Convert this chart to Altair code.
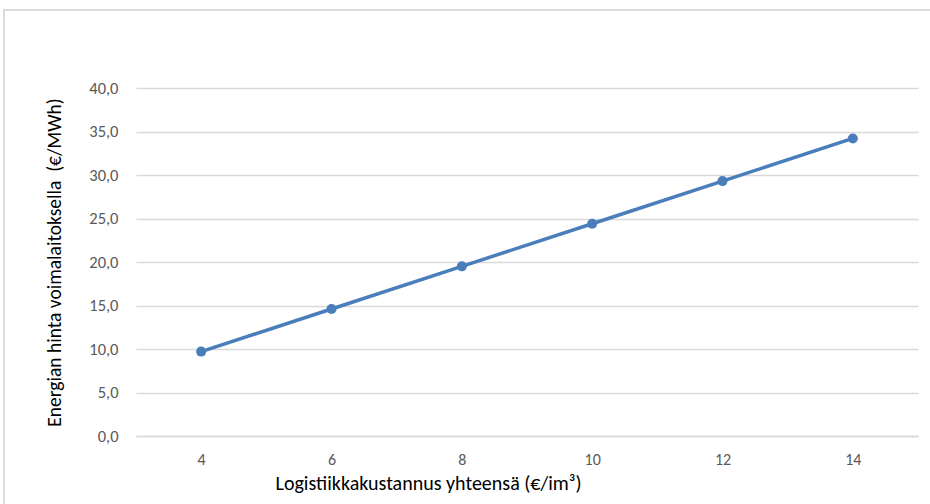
import altair as alt
import pandas as pd

cost = [4, 6, 8, 10, 12, 14]
price = [9.7, 14.6, 19.5, 24.4, 29.3, 34.2]

df = pd.DataFrame({"cost": [str(c) for c in cost], "price": price})

FONT = "Carlito, Liberation Sans Narrow, Lato, sans-serif"

x = alt.X(
    "cost:O",
    sort=[str(c) for c in cost],
    scale=alt.Scale(type="point", padding=0.5),
    axis=alt.Axis(
        title="Logistiikkakustannus yhteensä (€/im³)",
        labelAngle=0,
        labelFontSize=16,
        labelColor="#595959",
        labelFont=FONT,
        labelPadding=15,
        ticks=False,
        domain=True,
        domainColor="#d9d9d9",
        domainWidth=1.5,
        titleFont=FONT,
        titleFontSize=20,
        titleFontWeight="normal",
        titleColor="#000000",
        titleX=292,
        titleY=53,
        titleBaseline="alphabetic",
    ),
)
y = alt.Y(
    "price:Q",
    scale=alt.Scale(domain=[0, 40]),
    axis=alt.Axis(
        title="Energian hinta voimalaitoksella\u00a0 (€/MWh)",
        values=[0, 5, 10, 15, 20, 25, 30, 35, 40],
        labelExpr="replace(format(datum.value, '.1f'), '.', ',')",
        labelFontSize=16.5,
        labelColor="#595959",
        labelFont=FONT,
        labelPadding=18,
        ticks=False,
        domain=False,
        grid=True,
        gridColor="#d9d9d9",
        gridWidth=1.5,
        titleFont=FONT,
        titleFontSize=19.5,
        titleFontWeight="normal",
        titleColor="#000000",
        titleX=-82,
        titleBaseline="middle",
    ),
)

line = alt.Chart(df).mark_line(
    color="#4a7ebb", strokeWidth=3.5,
    point=alt.OverlayMarkDef(color="#4a7ebb", size=100, filled=True, opacity=1),
).encode(x=x, y=y)

border = alt.Chart(alt.Data(values=[{}])).mark_rect(
    fill=None, stroke="#d0d0d0", strokeWidth=1.5
).encode(
    x=alt.value(-132), y=alt.value(-78), x2=alt.value(810), y2=alt.value(430)
)

chart = alt.layer(border, line).properties(
    width=782, height=348,
    autosize=alt.AutoSizeParams(type="none"),
    padding={"left": 136, "top": 88, "right": 12, "bottom": 68},
    background="white",
).configure_view(stroke=None)

chart.save("out.html", embed_options={"renderer": "svg", "actions": False})
